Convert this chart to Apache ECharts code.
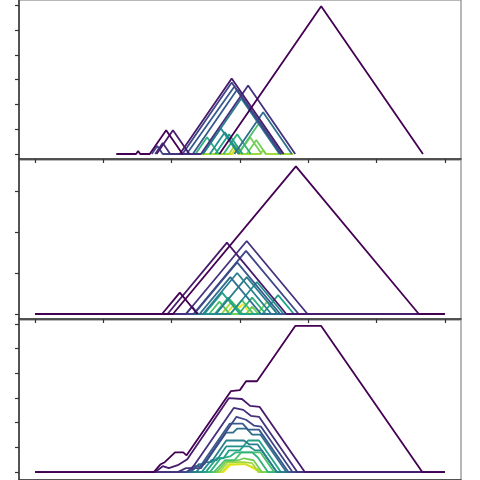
<!DOCTYPE html>
<html>
<head>
<meta charset="utf-8">
<script src="https://cdn.jsdelivr.net/npm/echarts@6/dist/echarts.min.js"></script>
<style>
  html, body { margin: 0; padding: 0; background: #fff; }
  #chart { width: 480px; height: 480px; }
</style>
</head>
<body>
<div id="chart"></div>
<script>
// tick positions (no labels in the original)
var xTicks = [0, 1, 2, 3, 4, 5, 6];
var yTicksTop = [0, 0.25, 0.5, 0.75, 1, 1.25, 1.5];
var yTicksMid = [0, 0.5, 1, 1.5];
var yTicksLow = [0, 0.25, 0.5, 0.75, 1, 1.25, 1.5];

// each line: [colour rank 0..14, [[x, y], ...]]
var topLines = [
  [0, [[1.19,0],[1.48,0],[1.51,0.03],[1.54,0],[1.68,0],[1.92,0.24],[2.16,0]]],
  [0, [[2.70,0],[4.19,1.49],[5.68,0]]],
  [1, [[1.78,0],[2.02,0.24],[2.26,0]]],
  [1, [[2.12,0],[2.88,0.76],[3.64,0]]],
  [2, [[1.76,0],[1.87,0.11],[1.98,0],[2.43,0],[3.12,0.69],[3.81,0]]],
  [3, [[1.71,0],[1.79,0.08],[1.87,0],[2.16,0],[2.88,0.72],[3.60,0]]],
  [4, [[2.22,0],[2.92,0.68],[3.60,0]]],
  [4, [[2.31,0],[2.96,0.65],[3.61,0]]],
  [5, [[2.92,0],[3.34,0.42],[3.76,0]]],
  [6, [[2.46,0],[3.02,0.56],[3.58,0]]],
  [7, [[2.46,0],[2.72,0.26],[2.98,0]]],
  [7, [[2.56,0],[2.78,0.22],[3.00,0]]],
  [8, [[2.64,0],[2.84,0.20],[3.04,0]]],
  [9, [[2.35,0],[2.52,0.17],[2.69,0]]],
  [9, [[2.76,0],[2.96,0.20],[3.16,0]]],
  [10, [[2.97,0],[3.29,0.32],[3.61,0]]],
  [11, [[2.98,0],[3.15,0.17],[3.32,0]]],
  [11, [[3.10,0],[3.24,0.14],[3.38,0]]],
  [12, [[2.20,0],[2.84,0],[2.93,0.09],[3.02,0],[3.30,0],[3.34,0.04],[3.38,0],[3.78,0]]],
  [13, [[2.70,0],[2.88,0],[2.95,0.07],[3.02,0],[3.20,0]]],
  [14, [[2.80,0],[2.90,0],[2.94,0.04],[2.98,0],[3.10,0]]]
];

var midLines = [
  [0, [[0,0],[2.02,0],[3.82,1.80],[5.62,0],[6,0]]],
  [0, [[1.86,0],[2.12,0.26],[2.38,0]]],
  [1, [[0,0],[1.94,0],[2.81,0.87],[3.68,0],[6,0]]],
  [2, [[0,0],[2.21,0],[3.10,0.89],[3.99,0],[6,0]]],
  [3, [[0,0],[2.32,0],[3.09,0.77],[3.86,0],[6,0]]],
  [4, [[0,0],[2.33,0],[2.96,0.63],[3.59,0],[6,0]]],
  [4, [[2.21,0],[2.30,0.09],[2.39,0]]],
  [5, [[0,0],[2.41,0],[2.86,0.45],[3.31,0],[6,0]]],
  [6, [[0,0],[2.46,0],[2.96,0.50],[3.46,0],[6,0]]],
  [6, [[2.65,0],[3.10,0.45],[3.55,0]]],
  [7, [[0,0],[2.86,0],[3.25,0.39],[3.64,0],[6,0]]],
  [8, [[0,0],[2.48,0],[2.74,0.26],[3.00,0],[6,0]]],
  [8, [[3.33,0],[3.56,0.23],[3.79,0]]],
  [9, [[0,0],[2.63,0],[2.83,0.20],[3.03,0],[6,0]]],
  [9, [[2.98,0],[3.18,0.20],[3.38,0]]],
  [10, [[0,0],[2.86,0],[3.03,0.17],[3.20,0],[6,0]]],
  [10, [[2.55,0],[2.70,0.15],[2.85,0]]],
  [11, [[0,0],[3.09,0],[3.18,0.09],[3.27,0],[6,0]]],
  [11, [[3.25,0],[3.40,0.15],[3.55,0]]],
  [12, [[0,0],[2.73,0],[2.88,0.15],[3.03,0],[6,0]]],
  [13, [[0,0],[2.80,0],[2.92,0.12],[3.04,0],[6,0]]],
  [14, [[0,0],[2.86,0],[2.97,0.11],[3.00,0.08],[3.04,0.12],[3.16,0],[6,0]]]
];

var lowLines = [
  [0, [[0,0],[1.74,0],[1.84,0.08],[1.90,0.10],[2.05,0.20],[2.17,0.20],[2.22,0.17],[2.87,0.82],[3.00,0.83],[3.09,0.92],[3.25,0.92],[3.81,1.48],[4.19,1.48],[5.67,0],[6,0]]],
  [1, [[0,0],[1.76,0],[1.87,0.06],[1.96,0.04],[2.09,0.07],[2.23,0.13],[2.84,0.75],[3.03,0.74],[3.15,0.67],[3.29,0.66],[3.95,0],[6,0]]],
  [2, [[0,0],[2.09,0],[2.21,0.04],[2.30,0.04],[2.91,0.65],[3.05,0.63],[3.16,0.57],[3.28,0.56],[3.84,0],[6,0]]],
  [3, [[0,0],[2.21,0],[2.34,0.04],[2.43,0.04],[2.95,0.56],[3.09,0.53],[3.21,0.47],[3.31,0.46],[3.77,0],[6,0]]],
  [4, [[0,0],[2.22,0],[2.32,0.06],[2.42,0.06],[2.85,0.49],[3.04,0.49],[3.12,0.43],[3.28,0.43],[3.71,0],[6,0]]],
  [5, [[0,0],[2.28,0],[2.40,0.08],[2.48,0.08],[2.80,0.40],[2.90,0.40],[2.96,0.44],[3.10,0.44],[3.18,0.38],[3.30,0.38],[3.68,0],[6,0]]],
  [6, [[0,0],[2.36,0],[2.48,0.10],[2.58,0.10],[2.80,0.32],[3.06,0.32],[3.14,0.28],[3.26,0.28],[3.54,0],[6,0]]],
  [7, [[0,0],[2.44,0],[2.58,0.12],[2.66,0.12],[2.80,0.26],[3.14,0.26],[3.22,0.22],[3.32,0.22],[3.54,0],[6,0]]],
  [8, [[0,0],[2.50,0],[2.66,0.14],[2.76,0.14],[2.84,0.22],[3.00,0.22],[3.12,0.32],[3.28,0.32],[3.60,0],[6,0]]],
  [9, [[0,0],[2.56,0],[2.72,0.14],[2.86,0.16],[2.94,0.20],[3.18,0.20],[3.26,0.15],[3.41,0],[6,0]]],
  [10, [[0,0],[2.62,0],[2.78,0.12],[2.92,0.12],[3.02,0.20],[3.30,0.20],[3.50,0],[6,0]]],
  [11, [[0,0],[2.66,0],[2.80,0.11],[2.98,0.12],[3.06,0.14],[3.20,0.12],[3.32,0],[6,0]]],
  [12, [[0,0],[2.70,0],[2.82,0.10],[3.06,0.10],[3.18,0.09],[3.27,0],[6,0]]],
  [13, [[0,0],[2.74,0],[2.84,0.08],[3.08,0.08],[3.22,0.04],[3.34,0],[6,0]]],
  [14, [[0,0],[2.76,0],[2.86,0.07],[3.08,0.08],[3.30,0],[6,0]]]
];

var viridisStops = ['#440154','#482878','#3e4989','#31688e','#26828e','#1f9e89','#35b779','#6ece58','#b5de2b','#fde725'];
function viridis(t) {
  var p = t * (viridisStops.length - 1);
  var i = Math.min(viridisStops.length - 2, Math.floor(p));
  var f = p - i;
  var a = viridisStops[i], b = viridisStops[i + 1];
  var rgb = [1, 3, 5].map(function(k) {
    var va = parseInt(a.substr(k, 2), 16), vb = parseInt(b.substr(k, 2), 16);
    return Math.round(va + (vb - va) * f);
  });
  return 'rgb(' + rgb.join(',') + ')';
}

var myChart = echarts.init(document.getElementById('chart'));

var grids = [
  {left: 19, right: 19, top: 0, height: 159},
  {left: 19, right: 19, top: 160, height: 159},
  {left: 19, right: 19, top: 320, height: 162}
];
var yRanges = [[-0.0504, 1.5524], [-0.061, 1.878], [-0.08, 1.54]];
var yTickSets = [yTicksTop, yTicksMid, yTicksLow];

var series = [];
[topLines, midLines, lowLines].forEach(function(lines, idx) {
  // lowest rank drawn last so it sits on top
  lines.slice().sort(function(a, b) { return b[0] - a[0]; }).forEach(function(l) {
    series.push({
      type: 'line',
      xAxisIndex: idx,
      yAxisIndex: idx,
      data: l[1],
      symbol: 'none',
      silent: true,
      animation: false,
      lineStyle: {width: 1.8, color: viridis(l[0] / 14)}
    });
  });
});

myChart.setOption({
  backgroundColor: '#fff',
  grid: grids.map(function(g) {
    return Object.assign({show: true, borderColor: '#a0a0a0', borderWidth: 1.5, backgroundColor: 'transparent'}, g);
  }),
  xAxis: grids.map(function(g, i) {
    return {
      type: 'value', gridIndex: i, min: -0.234, max: 6.237,
      axisLine: {show: true, onZero: false, lineStyle: {color: '#333', width: 1.5}},
      axisTick: {show: true, inside: false, length: 4, customValues: xTicks, lineStyle: {color: '#333', width: 1.2}},
      axisLabel: {show: false},
      splitLine: {show: false}
    };
  }),
  yAxis: grids.map(function(g, i) {
    return {
      type: 'value', gridIndex: i, min: yRanges[i][0], max: yRanges[i][1],
      axisLine: {show: true, onZero: false, lineStyle: {color: '#333', width: 1.5}},
      axisTick: {show: true, inside: false, length: 4, customValues: yTickSets[i], lineStyle: {color: '#333', width: 1.2}},
      axisLabel: {show: false},
      splitLine: {show: false}
    };
  }),
  series: series
});
</script>
</body>
</html>
